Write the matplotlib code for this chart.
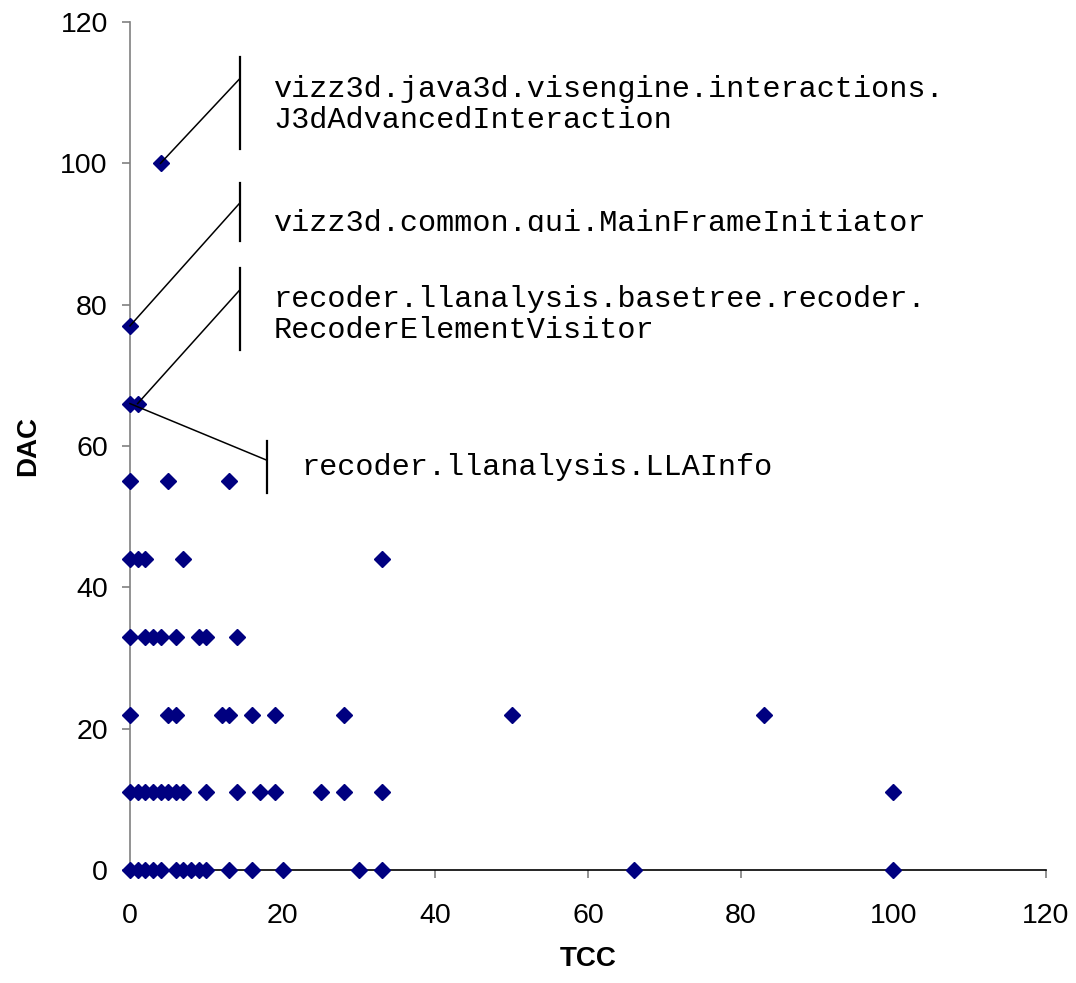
import matplotlib.pyplot as plt
from matplotlib.transforms import Bbox, TransformedBbox

# TCC values per DAC level
dac_levels = [0, 11, 22, 33, 44, 55, 66, 77, 100]
tcc_rows = [
    [0, 1, 2, 3, 4, 6, 7, 8, 9, 10, 13, 16, 20, 30, 33, 66, 100],
    [0, 1, 2, 3, 4, 5, 6, 7, 10, 14, 17, 19, 25, 28, 33, 100],
    [0, 5, 6, 12, 13, 16, 19, 28, 50, 83],
    [0, 2, 3, 4, 6, 9, 10, 14],
    [0, 1, 2, 7, 33],
    [0, 5, 13],
    [0, 1],
    [0],
    [4],
]

tcc = []
dac = []
for level, row in zip(dac_levels, tcc_rows):
    tcc += row
    dac += [level] * len(row)

# labelled classes: (tcc, dac) of the point and its name
label_points = [(4, 100), (0, 77), (1, 66), (0, 66)]
label_names = [
    "vizz3d.java3d.visengine.interactions.\nJ3dAdvancedInteraction",
    "vizz3d.common.gui.MainFrameInitiator",
    "recoder.llanalysis.basetree.recoder.\nRecoderElementVisitor",
    "recoder.llanalysis.LLAInfo",
]

fig = plt.figure(figsize=(10.76, 9.83), dpi=100)
ax = fig.add_axes([0.1208, 0.115, 0.8513, 0.8626])

ax.plot(tcc, dac, linestyle='none', marker='D', markersize=8.2,
        color='#000080', markeredgecolor='#000080', clip_on=False, zorder=3)

ax.set_xlim(0, 120)
ax.set_ylim(0, 120)
ax.set_xticks(range(0, 121, 20))
ax.set_yticks(range(0, 121, 20))

for s in ['top', 'right']:
    ax.spines[s].set_visible(False)
ax.spines['bottom'].set_color('black')
ax.spines['bottom'].set_linewidth(1.2)
ax.spines['left'].set_color('#808080')
ax.spines['left'].set_linewidth(1.2)
ax.tick_params(axis='both', direction='out', length=6, width=1.2,
               color='#808080', labelsize=20.5)
ax.tick_params(axis='x', pad=18)
ax.tick_params(axis='y', pad=10)
for lbl in ax.get_xticklabels() + ax.get_yticklabels():
    lbl.set_fontfamily('Liberation Sans')

ax.set_xlabel('TCC', fontsize=20, fontweight='bold', family='Liberation Sans', labelpad=12)
ax.set_ylabel('DAC', fontsize=20, fontweight='bold', family='Liberation Sans', labelpad=14)

# leader line ends, bars and text placement
leader_end = [(14.4, 112), (14.4, 94.4), (14.4, 82.1), (17.9, 58.0)]
bar_span = [(102, 115), (89, 97.2), (73.6, 85.2), (53.3, 60.7)]
text_pos = [(18.8, 108.3), (18.8, 91.5), (18.8, 78.6), (22.4, 57.0)]

for i in range(len(label_names)):
    px, py = label_points[i]
    ex, ey = leader_end[i]
    ax.plot([px, ex], [py, ey], color='black', lw=1.1, clip_on=False, zorder=4)
    ax.plot([ex, ex], bar_span[i], color='black', lw=1.6, clip_on=False, zorder=4)
    t = ax.text(text_pos[i][0], text_pos[i][1], label_names[i], fontsize=21.8,
                family='Liberation Mono', va='center', ha='left', linespacing=1.12)
    if i == 1:
        # this label is cut off at the bottom in the original
        clip = TransformedBbox(Bbox([[15, 90.3], [120, 100]]), ax.transData)
        t.set_clip_box(clip)
        t.set_clip_on(True)

fig.savefig('out.png', dpi=100)
